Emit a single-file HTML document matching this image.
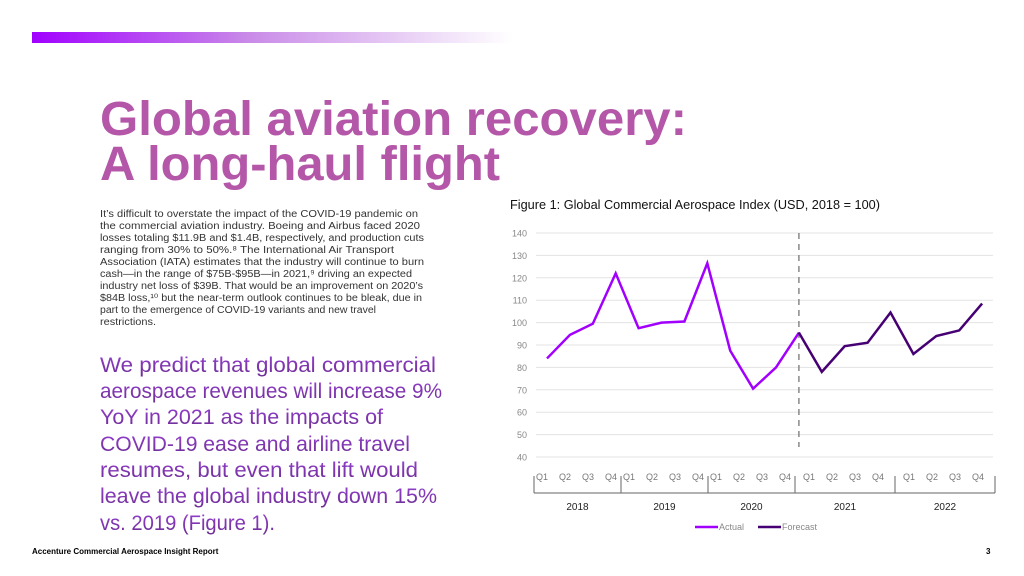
<!DOCTYPE html>
<html><head><meta charset="utf-8"><style>
html,body{margin:0;padding:0;background:#fff;}
svg{display:block;font-family:"Liberation Sans",sans-serif;}
</style></head><body>
<svg id="page" width="1024" height="576" viewBox="0 0 1024 576">
<defs>
<linearGradient id="bar" x1="0" x2="1" y1="0" y2="0"><stop offset="0" stop-color="#a100ff"/><stop offset="0.45" stop-color="#c98ae8"/><stop offset="1" stop-color="#ffffff"/></linearGradient>
<linearGradient id="pq" x1="0" x2="0" y1="0" y2="1"><stop offset="0" stop-color="#9440cf"/><stop offset="1" stop-color="#6c2c92"/></linearGradient>
</defs>
<rect x="32" y="32" width="480" height="11" fill="url(#bar)"/>
<g fill="#b457a8" font-weight="bold" font-size="48">
<text x="100" y="135" textLength="587" lengthAdjust="spacingAndGlyphs">Global aviation recovery:</text>
<text x="100" y="180" textLength="400" lengthAdjust="spacingAndGlyphs">A long-haul flight</text>
</g>
<g fill="#333" font-size="10">
<text x="100" y="217" textLength="318" lengthAdjust="spacingAndGlyphs">It’s difficult to overstate the impact of the COVID-19 pandemic on</text>
<text x="100" y="229" textLength="320" lengthAdjust="spacingAndGlyphs">the commercial aviation industry. Boeing and Airbus faced 2020</text>
<text x="100" y="241" textLength="324" lengthAdjust="spacingAndGlyphs">losses totaling $11.9B and $1.4B, respectively, and production cuts</text>
<text x="100" y="253" textLength="294" lengthAdjust="spacingAndGlyphs">ranging from 30% to 50%.⁸ The International Air Transport</text>
<text x="100" y="265" textLength="324" lengthAdjust="spacingAndGlyphs">Association (IATA) estimates that the industry will continue to burn</text>
<text x="100" y="277" textLength="312" lengthAdjust="spacingAndGlyphs">cash—in the range of $75B-$95B—in 2021,⁹ driving an expected</text>
<text x="100" y="289" textLength="323" lengthAdjust="spacingAndGlyphs">industry net loss of $39B. That would be an improvement on 2020’s</text>
<text x="100" y="301" textLength="322" lengthAdjust="spacingAndGlyphs">$84B loss,¹⁰ but the near-term outlook continues to be bleak, due in</text>
<text x="100" y="313" textLength="276" lengthAdjust="spacingAndGlyphs">part to the emergence of COVID-19 variants and new travel</text>
<text x="100" y="325" textLength="56" lengthAdjust="spacingAndGlyphs">restrictions.</text>
</g>
<g fill="url(#pq)" font-size="21">
<text x="100" y="372" textLength="336" lengthAdjust="spacingAndGlyphs">We predict that global commercial</text>
<text x="100" y="398" textLength="342" lengthAdjust="spacingAndGlyphs">aerospace revenues will increase 9%</text>
<text x="100" y="424" textLength="283" lengthAdjust="spacingAndGlyphs">YoY in 2021 as the impacts of</text>
<text x="100" y="451" textLength="310" lengthAdjust="spacingAndGlyphs">COVID-19 ease and airline travel</text>
<text x="100" y="477" textLength="318" lengthAdjust="spacingAndGlyphs">resumes, but even that lift would</text>
<text x="100" y="503" textLength="337" lengthAdjust="spacingAndGlyphs">leave the global industry down 15%</text>
<text x="100" y="530" textLength="175" lengthAdjust="spacingAndGlyphs">vs. 2019 (Figure 1).</text>
</g>
<text x="32" y="554" font-size="8" font-weight="bold" fill="#000">Accenture Commercial Aerospace Insight Report</text>
<text x="986" y="554" font-size="8" font-weight="bold" fill="#000">3</text>
<text x="510" y="209" font-size="12.5" fill="#111" textLength="370" lengthAdjust="spacingAndGlyphs">Figure 1: Global Commercial Aerospace Index (USD, 2018 = 100)</text>
<g id="chart"></g>
</svg>
<script>
const quarters = ["Q1","Q2","Q3","Q4","Q1","Q2","Q3","Q4","Q1","Q2","Q3","Q4","Q1","Q2","Q3","Q4","Q1","Q2","Q3","Q4"];
const years = ["2018","2019","2020","2021","2022"];
const actual = [84,94.5,99.5,122,97.5,100,100.5,126.5,87.5,70.5,80,95.5];
const forecast = [95.5,78,89.5,91,104.5,86,94,96.5,108.5];
const yTicks = [40,50,60,70,80,90,100,110,120,130,140];
const NS="http://www.w3.org/2000/svg";
const g=document.getElementById('chart');
const x=i=>547+i*22.9;
const y=v=>457-(v-40)*2.24;
function mk(t,a,p){const e=document.createElementNS(NS,t);for(const k in a)e.setAttribute(k,a[k]);(p||g).appendChild(e);return e;}
yTicks.forEach(v=>{
 const l=mk('line',{x1:536,x2:993,y1:y(v),y2:y(v),stroke:'#e3e3e3','stroke-width':1});
 
 
 const t=mk('text',{x:527,y:y(v)+3.5,'font-size':9,fill:'#888','text-anchor':'end'});t.textContent=v;
 
 
});
const dl=mk('line',{x1:x(11),x2:x(11),y1:y(140),y2:447,stroke:'#888','stroke-width':1.5,'stroke-dasharray':'6,5'});


const bounds=[534,621,708,795,895,995];
quarters.forEach((q,i)=>{
 const yi=Math.floor(i/4), j=i%4;
 const t=mk('text',{x:bounds[yi]+(yi<3?8:14)+j*23,y:480,'font-size':9,fill:'#777','text-anchor':'middle'});t.textContent=q;
 
 
});
const ax=mk('line',{x1:534,x2:995,y1:493,y2:493,stroke:'#666','stroke-width':1});


bounds.forEach(b=>{mk('line',{x1:b,x2:b,y1:476,y2:493,stroke:'#666','stroke-width':1});});
years.forEach((yr,i)=>{
 const t=mk('text',{x:(bounds[i]+bounds[i+1])/2,y:510,'font-size':10,fill:'#222','text-anchor':'middle'});t.textContent=yr;
 
 
});
const pa=mk('polyline',{points:actual.map((v,i)=>x(i)+','+y(v)).join(' '),fill:'none',stroke:'#a100ff','stroke-width':2.5,'stroke-linejoin':'miter'});


const pf=mk('polyline',{points:forecast.map((v,i)=>x(i+11)+','+y(v)).join(' '),fill:'none',stroke:'#460073','stroke-width':2.5});


const lg=mk('g',{});


mk('line',{x1:695,x2:718,y1:527,y2:527,stroke:'#a100ff','stroke-width':2.5},lg);
const la=mk('text',{x:719,y:530,'font-size':9,fill:'#888'},lg);la.textContent='Actual';


mk('line',{x1:758,x2:781,y1:527,y2:527,stroke:'#460073','stroke-width':2.5},lg);
const lf=mk('text',{x:782,y:530,'font-size':9,fill:'#888'},lg);lf.textContent='Forecast';


</script>
</body></html>
